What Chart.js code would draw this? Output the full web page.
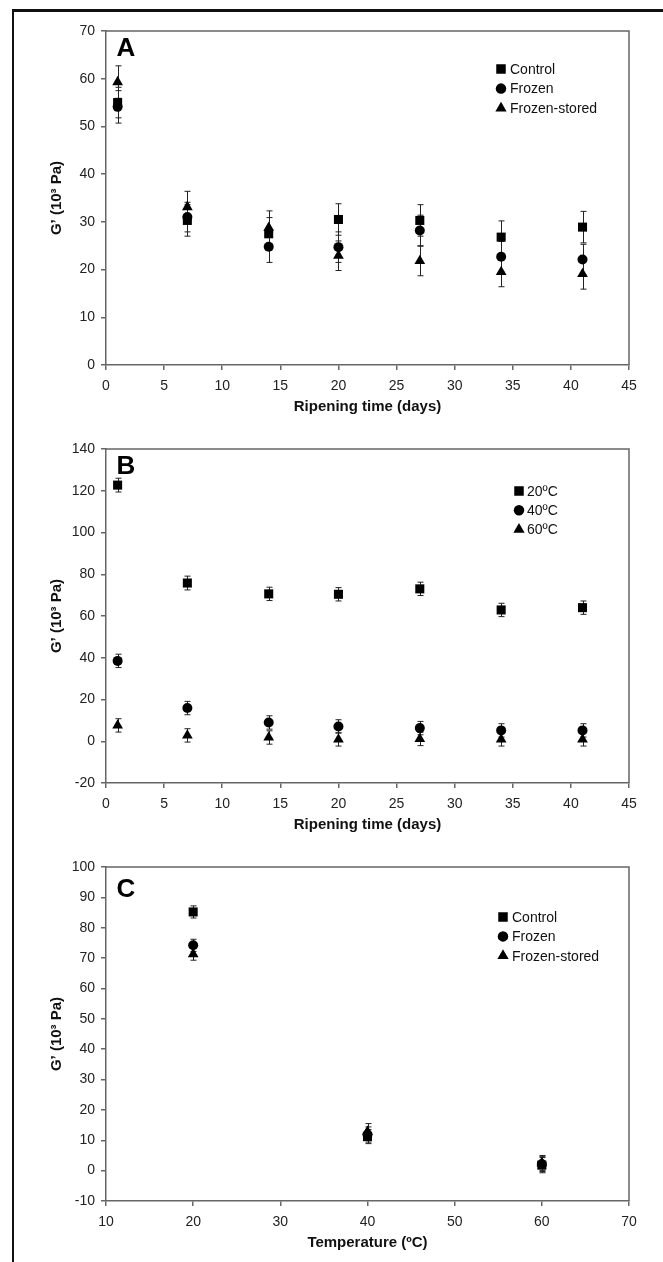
<!DOCTYPE html>
<html>
<head>
<meta charset="utf-8">
<script src="https://cdn.jsdelivr.net/npm/chart.js@4/dist/chart.umd.min.js"></script>
<style>
  body { margin: 0; background: #fff; }
  #page { position: relative; width: 663px; height: 1262px; overflow: hidden; background: #fff; }
  #page canvas { position: absolute; left: 0; }
  .frame-top { position: absolute; left: 12px; top: 9px; width: 651px; height: 3px; background: #111; }
  .frame-left { position: absolute; left: 12px; top: 9px; width: 2px; height: 1253px; background: #111; }
</style>
</head>
<body>
<div id="page">
  <canvas id="chartA" width="663" height="418" style="top:0px"></canvas>
  <canvas id="chartB" width="663" height="418" style="top:418px"></canvas>
  <canvas id="chartC" width="663" height="418" style="top:836px"></canvas>
  <div class="frame-top"></div>
  <div class="frame-left"></div>
</div>
<script>
// ---- data ----
var days = [1, 7, 14, 20, 27, 34, 41];

// panel A
var controlA = [55.0, 30.3, 27.5, 30.5, 30.3, 26.8, 28.9];
var frozenA  = [54.1, 31.0, 24.8, 24.7, 28.2, 22.7, 22.1];
var storedA  = [59.3, 33.1, 28.8, 22.9, 21.8, 19.5, 19.1];
var controlErrA = [3.2, 3.3, 3.4, 3.3, 3.3, 3.4, 3.3];
var frozenErrA  = [3.4, 3.1, 3.3, 3.2, 3.2, 3.2, 3.2];
var storedErrA  = [3.4, 3.3, 3.5, 3.1, 3.1, 3.1, 3.2];

// panel B
var t20 = [122.7, 75.8, 70.6, 70.4, 73.0, 62.9, 64.0];
var t40 = [38.5, 15.9, 9.0, 7.1, 6.3, 5.2, 5.2];
var t60 = [7.6, 2.8, 1.8, 0.9, 1.1, 0.9, 0.9];
var t20Err = [3.3, 3.3, 3.2, 3.2, 3.2, 3.2, 3.2];
var t40Err = [3.2, 3.2, 3.2, 3.2, 3.2, 3.2, 3.2];
var t60Err = [3.2, 3.2, 3.2, 3.2, 3.2, 3.2, 3.2];

// panel C
var temps = [20, 40, 60];
var controlC = [85.2, 11.2, 1.8];
var frozenC  = [74.2, 11.9, 2.2];
var storedC  = [71.3, 12.8, 2.5];
var controlErrC = [2.0, 2.3, 2.5];
var frozenErrC  = [2.0, 2.5, 2.5];
var storedErrC  = [2.0, 2.7, 2.5];

var yTitle = 'G\u2019 (10\u00B3 Pa)';

Chart.defaults.font.family = "'Liberation Sans', Arial, sans-serif";
Chart.defaults.color = '#222';

function pts(xs, ys) {
    return xs.map(function(x, i) { return {x: x, y: ys[i]}; });
}

function series(label, xs, ys, errs, style, r) {
    return {
        label: label,
        data: pts(xs, ys),
        errors: errs,
        pointStyle: style,
        pointRadius: r,
        pointHoverRadius: r,
        pointBorderWidth: 0,
        backgroundColor: '#000',
        borderColor: '#000',
        showLine: false
    };
}

// box, error bars, panel letter and legend
var extras = {
    id: 'extras',
    beforeDatasetsDraw: function(chart) {
        var ctx = chart.ctx, a = chart.chartArea, ys = chart.scales.y;
        ctx.save();
        ctx.strokeStyle = '#666';
        ctx.lineWidth = 1.5;
        ctx.beginPath();
        ctx.moveTo(a.left, a.top);
        ctx.lineTo(a.right, a.top);
        ctx.lineTo(a.right, a.bottom);
        ctx.stroke();

        ctx.strokeStyle = '#222';
        ctx.lineWidth = 1;
        chart.data.datasets.forEach(function(ds, i) {
            var meta = chart.getDatasetMeta(i);
            meta.data.forEach(function(el, j) {
                var v = ds.data[j].y, e = ds.errors[j];
                var x = Math.round(el.x) + 0.5;
                var top = ys.getPixelForValue(v + e), bot = ys.getPixelForValue(v - e);
                ctx.beginPath();
                ctx.moveTo(x, top); ctx.lineTo(x, bot);
                ctx.moveTo(x - 3, top); ctx.lineTo(x + 3, top);
                ctx.moveTo(x - 3, bot); ctx.lineTo(x + 3, bot);
                ctx.stroke();
            });
        });
        ctx.restore();
    },
    afterDraw: function(chart, args, o) {
        var ctx = chart.ctx;
        ctx.save();
        ctx.fillStyle = '#000';
        ctx.font = "bold 26px 'Liberation Sans', Arial, sans-serif";
        ctx.textAlign = 'center';
        ctx.textBaseline = 'middle';
        ctx.fillText(o.letter, o.letterX, o.letterY);

        ctx.font = "14px 'Liberation Sans', Arial, sans-serif";
        ctx.textAlign = 'left';
        chart.data.datasets.forEach(function(ds, i) {
            var y = o.legendY + i * o.legendDy;
            Chart.helpers.drawPoint(ctx, {
                pointStyle: ds.pointStyle, radius: ds.pointRadius * 1.05, borderWidth: 0, rotation: 0
            }, o.markerX, y);
            ctx.fillStyle = '#111';
            ctx.fillText(ds.label, o.textX, y + 1);
            ctx.fillStyle = '#000';
        });
        ctx.restore();
    }
};

function makeChart(id, datasets, xr, yr, xTitle, extraOpts) {
    return new Chart(document.getElementById(id), {
        type: 'scatter',
        data: { datasets: datasets },
        plugins: [extras],
        options: {
            responsive: false,
            devicePixelRatio: 1,
            animation: false,
            layout: { padding: { left: 0, right: 34, top: 31, bottom: 0 } },
            plugins: {
                legend: { display: false },
                tooltip: { enabled: false },
                extras: extraOpts
            },
            scales: {
                x: {
                    type: 'linear', min: xr[0], max: xr[1],
                    ticks: { stepSize: xr[2], padding: 8, font: { size: 14 }, color: '#222' },
                    grid: { drawOnChartArea: false, tickLength: 5, color: '#666', lineWidth: 1.5 },
                    border: { color: '#666', width: 1.5 },
                    title: { display: true, text: xTitle, color: '#111', font: { size: 15, weight: 'bold' }, padding: { top: 0, bottom: 2 } },
                    afterFit: function(s) { s.height = 53; }
                },
                y: {
                    type: 'linear', min: yr[0], max: yr[1],
                    ticks: { stepSize: yr[2], padding: 6, font: { size: 14 }, color: '#222' },
                    grid: { drawOnChartArea: false, tickLength: 5, color: '#666', lineWidth: 1.5 },
                    border: { color: '#666', width: 1.5 },
                    title: { display: true, text: yTitle, color: '#111', font: { size: 15, weight: 'bold' }, padding: { top: 48, bottom: 0 } },
                    afterFit: function(s) { s.width = 106; }
                }
            }
        }
    });
}

makeChart('chartA', [
    series('Control', days, controlA, controlErrA, 'rect', 6.4),
    series('Frozen', days, frozenA, frozenErrA, 'circle', 5),
    series('Frozen-stored', days, storedA, storedErrA, 'triangle', 6.2)
], [0, 45, 5], [0, 70, 10], 'Ripening time (days)',
   { letter: 'A', letterX: 126, letterY: 49, markerX: 501, textX: 510, legendY: 69, legendDy: 19.6 });

makeChart('chartB', [
    series('20ºC', days, t20, t20Err, 'rect', 6.4),
    series('40ºC', days, t40, t40Err, 'circle', 5),
    series('60ºC', days, t60, t60Err, 'triangle', 6.2)
], [0, 45, 5], [-20, 140, 20], 'Ripening time (days)',
   { letter: 'B', letterX: 126, letterY: 49, markerX: 519, textX: 527, legendY: 73, legendDy: 19.3 });

makeChart('chartC', [
    series('Control', temps, controlC, controlErrC, 'rect', 6.4),
    series('Frozen', temps, frozenC, frozenErrC, 'circle', 5),
    series('Frozen-stored', temps, storedC, storedErrC, 'triangle', 6.2)
], [10, 70, 10], [-10, 100, 10], 'Temperature (ºC)',
   { letter: 'C', letterX: 126, letterY: 54, markerX: 503, textX: 512, legendY: 81, legendDy: 19.4 });
</script>
</body>
</html>
